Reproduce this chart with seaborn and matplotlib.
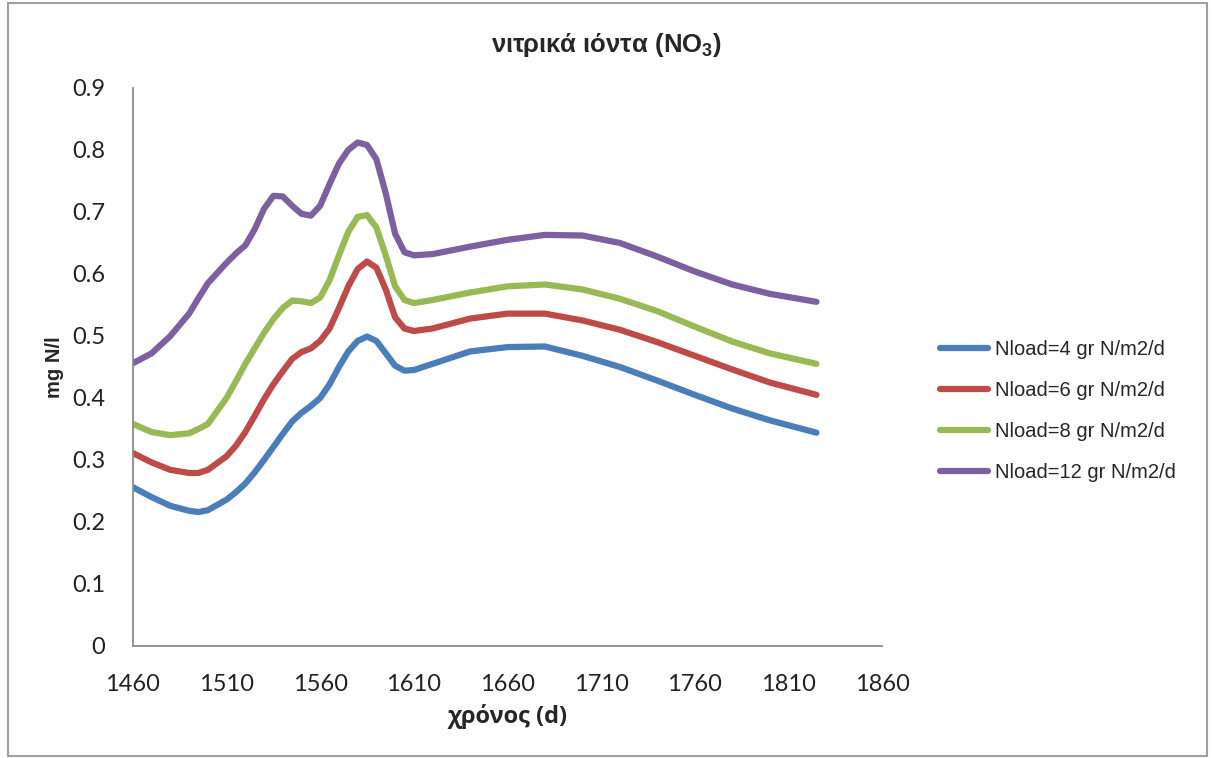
import numpy as np
import pandas as pd
import matplotlib
matplotlib.use("Agg")
import matplotlib.pyplot as plt
import seaborn as sns
from matplotlib.patches import Rectangle

#---------------------- DATA ----------------------

days = [1460, 1470, 1480, 1490, 1495, 1500, 1510, 1515, 1520, 1525, 1530, 1535,
        1540, 1545, 1550, 1555, 1560, 1565, 1570, 1575, 1580, 1585, 1590, 1595,
        1600, 1605, 1610, 1620, 1640, 1660, 1680, 1700, 1720, 1740, 1760, 1780,
        1800, 1825]

nload_4 = [0.256, 0.240, 0.226, 0.218, 0.216, 0.219, 0.236, 0.248, 0.262, 0.280,
           0.300, 0.321, 0.342, 0.362, 0.376, 0.387, 0.400, 0.422, 0.450, 0.475,
           0.492, 0.499, 0.492, 0.472, 0.452, 0.444, 0.445, 0.455, 0.475, 0.482,
           0.483, 0.468, 0.450, 0.428, 0.405, 0.383, 0.364, 0.344]

nload_6 = [0.311, 0.296, 0.284, 0.279, 0.279, 0.284, 0.306, 0.323, 0.345, 0.371,
           0.398, 0.422, 0.443, 0.463, 0.474, 0.480, 0.492, 0.512, 0.545, 0.580,
           0.608, 0.620, 0.610, 0.575, 0.530, 0.512, 0.508, 0.512, 0.528, 0.536,
           0.536, 0.525, 0.510, 0.490, 0.468, 0.446, 0.425, 0.405]

nload_8 = [0.358, 0.345, 0.340, 0.343, 0.350, 0.358, 0.400, 0.427, 0.455, 0.480,
           0.505, 0.527, 0.545, 0.557, 0.556, 0.553, 0.562, 0.590, 0.630, 0.668,
           0.692, 0.695, 0.675, 0.630, 0.580, 0.558, 0.553, 0.558, 0.570, 0.580,
           0.583, 0.575, 0.560, 0.540, 0.515, 0.491, 0.472, 0.455]

nload_12 = [0.456, 0.472, 0.500, 0.536, 0.561, 0.585, 0.618, 0.633, 0.646, 0.672,
            0.705, 0.726, 0.725, 0.710, 0.697, 0.694, 0.710, 0.745, 0.778, 0.800,
            0.812, 0.808, 0.785, 0.730, 0.665, 0.635, 0.630, 0.632, 0.644, 0.655,
            0.663, 0.662, 0.650, 0.628, 0.604, 0.583, 0.568, 0.555]

labels = ["Nload=4 gr N/m2/d", "Nload=6 gr N/m2/d",
          "Nload=8 gr N/m2/d", "Nload=12 gr N/m2/d"]
colors = ["#4A7EBB", "#BE4B48", "#98B954", "#7D60A0"]

x_ticks = [1460, 1510, 1560, 1610, 1660, 1710, 1760, 1810, 1860]
y_ticks = [0, 0.1, 0.2, 0.3, 0.4, 0.5, 0.6, 0.7, 0.8, 0.9]

#---------------------- LONG FORMAT ----------------------

frames = []
for lab, vals in zip(labels, [nload_4, nload_6, nload_8, nload_12]):
    frames.append(pd.DataFrame({"day": days, "value": vals, "series": lab}))
data = pd.concat(frames, ignore_index=True)

#---------------------- PLOT ----------------------

sns.set_style("white")
plt.rcParams["font.family"] = ["Liberation Sans", "DejaVu Sans"]
plt.rcParams["mathtext.fontset"] = "custom"
plt.rcParams["mathtext.rm"] = "Liberation Sans:bold"
plt.rcParams["mathtext.it"] = "Liberation Sans:bold"
plt.rcParams["mathtext.bf"] = "Liberation Sans:bold"

fig = plt.figure(figsize=(12.13, 7.58), dpi=100)
ax = fig.add_axes([0.1096, 0.1478, 0.6175, 0.7362])

sns.lineplot(data=data, x="day", y="value", hue="series", hue_order=labels,
             palette=colors, linewidth=4.5, sort=False, estimator=None,
             ax=ax, legend=True, solid_joinstyle="round", solid_capstyle="round")

ax.set_xlim(1460, 1860)
ax.set_ylim(0, 0.9)
ax.set_xticks(x_ticks)
ax.set_yticks(y_ticks)
ax.set_xticklabels([str(t) for t in x_ticks])
ax.set_yticklabels(["0"] + ["%.1f" % t for t in y_ticks[1:]])
ax.tick_params(length=0, labelsize=17)
ax.tick_params(axis="x", pad=20)
ax.tick_params(axis="y", pad=20)
for lab in ax.get_xticklabels() + ax.get_yticklabels():
    lab.set_family(["Lato", "Open Sans", "DejaVu Sans"])
    lab.set_color("#222222")

for side in ["top", "right"]:
    ax.spines[side].set_visible(False)
for side in ["left", "bottom"]:
    ax.spines[side].set_color("#8c8c8c")
    ax.spines[side].set_linewidth(1.3)

ax.set_xlabel("χρόνος (d)", fontsize=17, fontweight="bold",
              family=["Open Sans", "DejaVu Sans"], labelpad=7)
ax.set_ylabel("mg N/l", fontsize=14.5, fontweight="bold", labelpad=6)

fig.text(0.5, 0.94, "νιτρικά ιόντα (NO$_3$)", ha="center", va="center",
         fontsize=18.5, fontweight="bold")

ax.legend_.remove()
handles, leg_labels = ax.get_legend_handles_labels()
fig.legend(handles, leg_labels, loc="center left", bbox_to_anchor=(0.775, 0.458),
           bbox_transform=fig.transFigure, frameon=False, fontsize=14.5,
           handlelength=2.4, handletextpad=0.35, labelspacing=1.1,
           borderpad=0, borderaxespad=0)

# chart border like the spreadsheet frame
fig.patches.append(Rectangle((0.007, 0.003), 0.988, 0.993, transform=fig.transFigure,
                             fill=False, edgecolor="#a0a0a0", linewidth=1.5))

plt.savefig("out.png", dpi=100)
